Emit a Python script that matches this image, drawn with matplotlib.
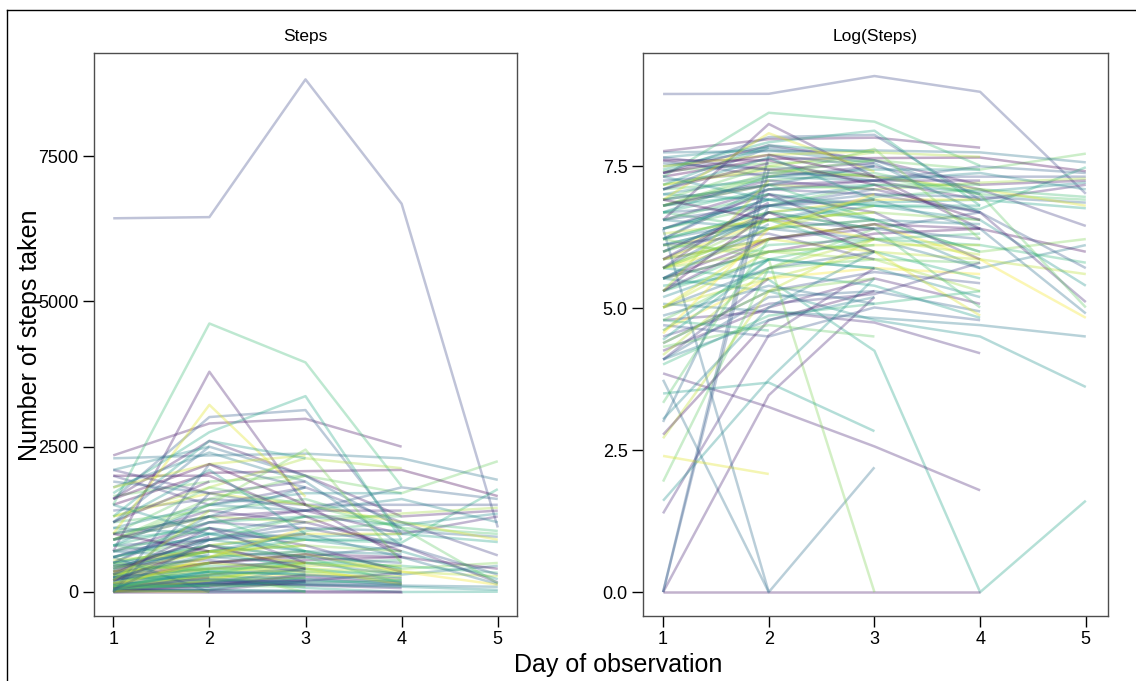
import numpy as np
import matplotlib
matplotlib.use("Agg")
import matplotlib.pyplot as plt
from matplotlib.lines import Line2D

plt.rcParams['font.family'] = ['Liberation Sans', 'DejaVu Sans']

days = [1, 2, 3, 4, 5]

# Steps per subject, grouped by how many days were observed
five_day = [
    [6430, 6450, 8820, 6680, 1110],
    [1650, 1900, 2000, 1700, 2250],
    [2300, 2350, 2380, 2300, 1930],
    [1500, 2050, 2080, 2100, 1650],
    [400, 700, 900, 850, 1770],
    [1400, 1600, 1500, 1500, 1500],
    [900, 1300, 1200, 1350, 1450],
    [1100, 1000, 1300, 1150, 1350],
    [700, 1200, 1400, 1000, 1300],
    [1200, 1400, 1600, 1100, 1000],
    [800, 900, 1100, 1050, 950],
    [1300, 1700, 1500, 1200, 900],
    [500, 800, 950, 1000, 860],
    [2000, 1500, 1800, 1200, 630],
    [300, 600, 700, 400, 500],
    [350, 500, 650, 300, 450],
    [250, 400, 550, 600, 400],
    [200, 350, 500, 450, 330],
    [450, 700, 600, 800, 300],
    [150, 250, 400, 350, 270],
    [600, 1000, 900, 700, 220],
    [900, 1400, 1200, 800, 165],
    [1000, 1800, 1500, 1100, 150],
    [500, 700, 1000, 600, 135],
    [300, 500, 650, 350, 125],
    [160, 140, 125, 110, 90],
    [250, 200, 120, 90, 37],
    [300, 245, 70, 0, 5],
    [1100, 1500, 1400, 1600, 1200],
    [1600, 2600, 2000, 1300, 1400],
    [800, 600, 1050, 1200, 1050],
    [1900, 1700, 1400, 1800, 1600],
]

four_day = [
    [2350, 2900, 2980, 2500],
    [1500, 4620, 3950, 1820],
    [700, 3790, 1500, 600],
    [1600, 3010, 3130, 1000],
    [1700, 2750, 3370, 900],
    [0, 0, 0, 0],
    [47, 26, 13, 6],
    [120, 140, 115, 67],
    [1300, 1800, 2300, 2130],
    [800, 1500, 1700, 1700],
    [1000, 1300, 1400, 1400],
    [600, 900, 1300, 1300],
    [1200, 2500, 2000, 1100],
    [400, 800, 1000, 1000],
    [900, 1100, 900, 900],
    [500, 1200, 1100, 800],
    [300, 700, 800, 700],
    [700, 600, 700, 650],
    [250, 500, 650, 600],
    [200, 450, 500, 550],
    [350, 800, 600, 500],
    [150, 400, 450, 450],
    [400, 900, 700, 400],
    [600, 1100, 800, 350],
    [120, 300, 350, 330],
    [250, 600, 500, 300],
    [100, 250, 300, 270],
    [450, 700, 400, 250],
    [80, 200, 280, 230],
    [300, 400, 350, 200],
    [180, 350, 300, 180],
    [70, 150, 250, 160],
    [500, 800, 600, 150],
    [60, 180, 200, 140],
    [350, 500, 400, 130],
    [220, 280, 220, 125],
    [90, 160, 190, 330],
    [900, 1500, 2450, 500],
    [1800, 2400, 1900, 800],
    [2000, 2000, 1300, 700],
    [55, 130, 160, 200],
    [110, 90, 150, 120],
    [65, 300, 500, 380],
]

three_day = [
    [42, 0, 9],
    [500, 350, 0],
    [33, 40, 17],
    [0, 32, 180],
    [4, 92, 300],
    [5, 42, 250],
    [7, 300, 600],
    [15, 200, 500],
    [21, 150, 400],
    [16, 120, 200],
    [1000, 3220, 1640],
    [0, 2200, 1800],
    [1800, 2200, 2350],
    [1300, 2600, 2300],
    [2100, 1700, 1900],
    [900, 1600, 2000],
    [500, 1300, 1800],
    [1600, 2200, 1500],
    [800, 1200, 1300],
    [400, 900, 1000],
    [300, 600, 900],
    [600, 1000, 700],
    [200, 500, 600],
    [250, 400, 450],
    [150, 300, 400],
    [350, 700, 500],
    [100, 350, 300],
    [450, 550, 350],
    [80, 200, 250],
    [60, 120, 180],
    [200, 800, 400],
    [1000, 1300, 700],
    [700, 900, 1200],
    [550, 700, 800],
    [1200, 2100, 1000],
    [300, 1100, 500],
    [75, 110, 90],
    [130, 220, 160],
    [95, 600, 1100],
]

two_day = [
    [11, 8],
    [600, 0],
    [0, 1700],
    [2100, 2500],
    [1200, 1900],
    [700, 1100],
    [300, 800],
    [150, 500],
    [85, 350],
    [60, 250],
    [450, 400],
    [250, 650],
    [1000, 700],
    [120, 100],
    [900, 1300],
    [200, 1400],
    [1500, 1000],
    [350, 950],
    [28, 500],
    [20, 900],
]

panel_titles = ["Steps", "Log(Steps)"]
left_yticks = [0, 2500, 5000, 7500]
right_yticks = [0.0, 2.5, 5.0, 7.5]

# colour (position on viridis) for the most visible individual lines
color_overrides = {
    ("five", 0): 0.22, ("five", 25): 0.40, ("five", 26): 0.50, ("five", 27): 0.58,
    ("four", 0): 0.05, ("four", 1): 0.68, ("four", 2): 0.08, ("four", 3): 0.30,
    ("four", 4): 0.60, ("four", 5): 0.06, ("four", 6): 0.10, ("four", 7): 0.12,
    ("three", 0): 0.36, ("three", 1): 0.80, ("three", 2): 0.55, ("three", 3): 0.10,
    ("three", 4): 0.12, ("three", 5): 0.50, ("three", 6): 0.75, ("three", 7): 0.90,
    ("three", 10): 0.95, ("three", 11): 0.30,
    ("two", 0): 0.95, ("two", 1): 0.35, ("two", 2): 0.28,
}

groups = [("five", five_day), ("four", four_day), ("three", three_day), ("two", two_day)]
cmap = plt.get_cmap("viridis")

W, H = 1136, 681
fig = plt.figure(figsize=(W / 100, H / 100), dpi=100)

ax1 = fig.add_axes([94 / W, 1 - 616 / H, 423 / W, 563 / H])
ax2 = fig.add_axes([643 / W, 1 - 616 / H, 465 / W, 563 / H])

k = 0
for gname, group in groups:
    for j, s in enumerate(group):
        pos = color_overrides.get((gname, j), (0.15 + k * 0.618034) % 1.0)
        k += 1
        col = cmap(pos)
        x = days[:len(s)]
        y = np.array(s, dtype=float)
        ax1.plot(x, y, color=col, alpha=0.33, lw=1.8, solid_capstyle='butt')
        ax2.plot(x, np.log(np.maximum(y, 1)), color=col, alpha=0.33, lw=1.8,
                 solid_capstyle='butt')

ax1.set_xlim(0.8, 5.2)
ax1.set_ylim(-413, 9274)
ax2.set_xlim(0.81, 5.21)
ax2.set_ylim(-0.42, 9.49)

ax1.set_yticks(left_yticks)
ax1.set_yticklabels([str(v) for v in left_yticks])
ax2.set_yticks(right_yticks)
ax2.set_yticklabels([f"{v:.1f}" for v in right_yticks])

for ax, t in zip([ax1, ax2], panel_titles):
    ax.set_xticks(days)
    ax.set_xticklabels([str(d) for d in days])
    ax.tick_params(direction='out', length=8, width=1, labelsize=13,
                   pad=3, color='black')
    for sp in ax.spines.values():
        sp.set_color('#4d4d4d')
        sp.set_linewidth(1.0)
    ax.set_title(t, fontsize=12.5, pad=9)

fig.text(30 / W, 1 - 335 / H, "Number of steps taken", rotation=90,
         ha='center', va='center', fontsize=18)
fig.text(618 / W, 1 - 665 / H, "Day of observation", ha='center',
         va='center', fontsize=18)

# outer frame (top and left edges)
fig.add_artist(Line2D([7 / W, 7 / W], [0, 1 - 10 / H], transform=fig.transFigure,
                      color='black', lw=1))
fig.add_artist(Line2D([7 / W, 1], [1 - 10 / H, 1 - 10 / H], transform=fig.transFigure,
                      color='black', lw=1))

fig.savefig("out.png", dpi=100)
